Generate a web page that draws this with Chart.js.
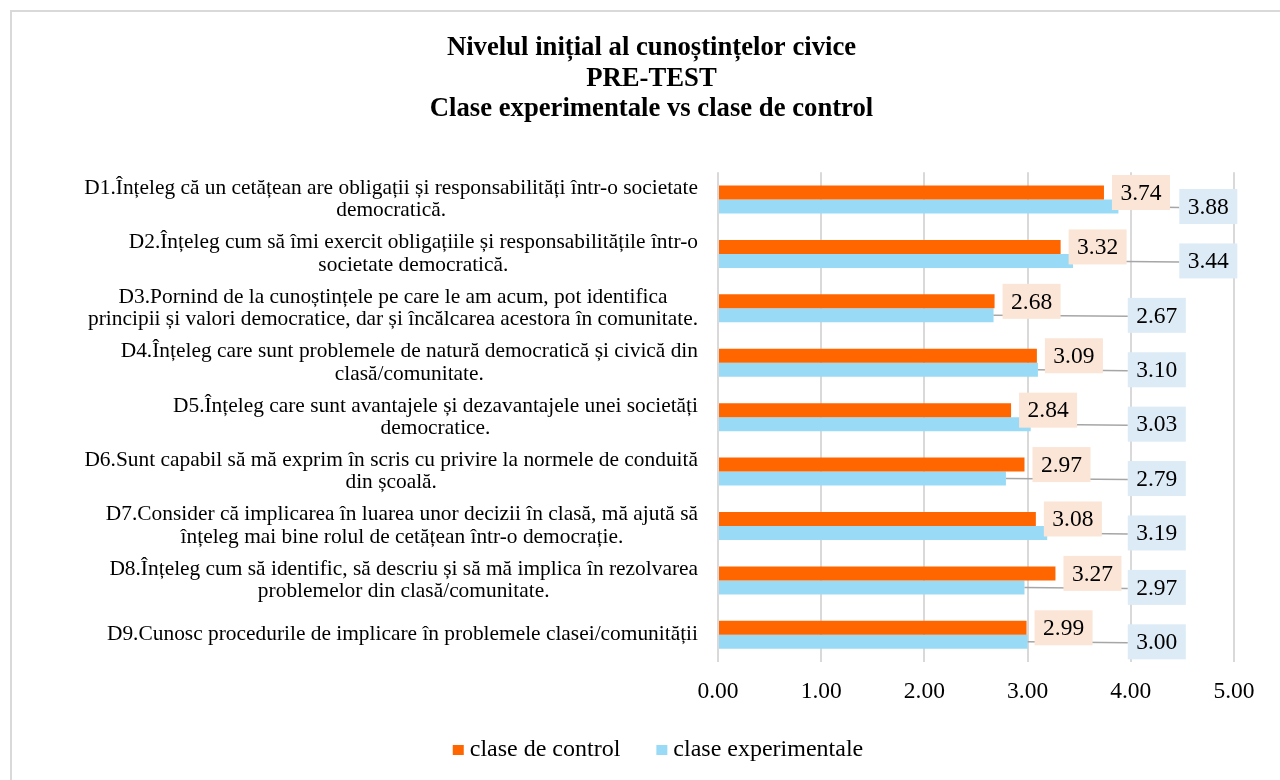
<!DOCTYPE html>
<html>
<head>
<meta charset="utf-8">
<script src="https://cdn.jsdelivr.net/npm/chart.js@4.4.1/dist/chart.umd.min.js"></script>
<style>
  html, body { margin: 0; padding: 0; background: #fff; }
  #wrap { width: 1280px; height: 780px; }
</style>
</head>
<body>
<div id="wrap"><canvas id="chart" width="1280" height="780"></canvas></div>
<script>
const titleLines = [
    "Nivelul inițial al cunoștințelor civice",
    "PRE-TEST",
    "Clase experimentale vs clase de control"
];
const categories = [
    ["D1.Înțeleg că un cetățean are obligații și responsabilități într-o societate", "democratică."],
    ["D2.Înțeleg cum să îmi exercit obligațiile și responsabilitățile într-o", "societate democratică."],
    ["D3.Pornind de la cunoștințele pe care le am acum, pot identifica", "principii și valori democratice, dar și încălcarea acestora în comunitate."],
    ["D4.Înțeleg care sunt problemele de natură democratică și civică din", "clasă/comunitate."],
    ["D5.Înțeleg care sunt avantajele și dezavantajele unei societăți", "democratice."],
    ["D6.Sunt capabil să mă exprim în scris cu privire la normele de conduită", "din școală."],
    ["D7.Consider că implicarea în luarea unor decizii în clasă, mă ajută să", "înțeleg mai bine rolul de cetățean într-o democrație."],
    ["D8.Înțeleg cum să identific, să descriu și să mă implica în rezolvarea", "problemelor din clasă/comunitate."],
    ["D9.Cunosc procedurile de implicare în problemele clasei/comunității"]
];
const seriesNames = ["clase de control", "clase experimentale"];
const controlValues = [3.74, 3.32, 2.68, 3.09, 2.84, 2.97, 3.08, 3.27, 2.99];
const experimentalValues = [3.88, 3.44, 2.67, 3.10, 3.03, 2.79, 3.19, 2.97, 3.00];
const xMin = 0, xMax = 5, xStep = 1;

const serif = "'Liberation Serif', 'Times New Roman', serif";
const barColors = ["#FF6600", "#99DBF6"];
const boxColors = ["#FBE5D6", "#DDEBF7"];

// white page + thin frame like the exported chart
const framePlugin = {
    id: "frame",
    beforeDraw(chart) {
        const ctx = chart.ctx;
        ctx.save();
        ctx.fillStyle = "#fff";
        ctx.fillRect(0, 0, chart.width, chart.height);
        ctx.strokeStyle = "#D9D9D9";
        ctx.lineWidth = 2;
        ctx.strokeRect(11, 11, chart.width + 50, chart.height + 50);
        ctx.restore();
    }
};

// category labels: block right aligned, lines centred inside it
const categoryLabels = {
    id: "categoryLabels",
    afterDraw(chart) {
        const ctx = chart.ctx;
        const y = chart.scales.y;
        const right = chart.chartArea.left - 20;
        ctx.save();
        ctx.font = "21.4px " + serif;
        ctx.fillStyle = "#000";
        ctx.textAlign = "center";
        ctx.textBaseline = "middle";
        chart.data.labels.forEach((lines, i) => {
            const cy = y.getPixelForTick(i);
            const maxW = Math.max(...lines.map(l => ctx.measureText(l).width));
            const cx = right - maxW / 2;
            lines.forEach((l, j) => {
                ctx.fillText(l, cx, cy + (j - (lines.length - 1) / 2) * 22.5);
            });
        });
        ctx.restore();
    }
};

// data labels in coloured boxes, blue ones pulled out with leader lines
const valueLabels = {
    id: "valueLabels",
    afterDatasetsDraw(chart) {
        const ctx = chart.ctx;
        const x = chart.scales.x;
        const ctrl = chart.getDatasetMeta(0).data;
        const expe = chart.getDatasetMeta(1).data;
        const w = 58, h = 35;
        const spots = ctrl.map((bar, i) => {
            const oLeft = bar.x + 8;
            let bLeft = x.getPixelForValue(4) - 3;
            if (oLeft + w + 4 > bLeft) bLeft = x.getPixelForValue(4.47);
            return { oLeft, bLeft, ob: bar, eb: expe[i] };
        });
        ctx.save();
        ctx.strokeStyle = "#A6A6A6";
        ctx.lineWidth = 1.5;
        spots.forEach(s => {
            if (s.bLeft - s.eb.x > 6) {
                ctx.beginPath();
                ctx.moveTo(s.eb.x, s.eb.y);
                ctx.lineTo(s.bLeft, s.eb.y + 1);
                ctx.stroke();
            }
        });
        ctx.font = "23.5px " + serif;
        ctx.textAlign = "center";
        ctx.textBaseline = "middle";
        spots.forEach((s, i) => {
            ctx.fillStyle = boxColors[0];
            ctx.fillRect(s.oLeft, s.ob.y - h / 2, w, h);
            ctx.fillStyle = "#000";
            ctx.fillText(controlValues[i].toFixed(2), s.oLeft + w / 2, s.ob.y + 1);
        });
        spots.forEach((s, i) => {
            ctx.fillStyle = boxColors[1];
            ctx.fillRect(s.bLeft, s.eb.y - h / 2, w, h);
            ctx.fillStyle = "#000";
            ctx.fillText(experimentalValues[i].toFixed(2), s.bLeft + w / 2, s.eb.y + 1);
        });
        ctx.restore();
    }
};

// bottom legend
const legendPlugin = {
    id: "bottomLegend",
    afterDraw(chart) {
        const ctx = chart.ctx;
        ctx.save();
        ctx.font = "24px " + serif;
        ctx.textBaseline = "middle";
        ctx.textAlign = "left";
        const items = chart.data.datasets.map(d => ({ text: d.label, color: d.backgroundColor, tw: ctx.measureText(d.label).width }));
        const total = items.reduce((a, it) => a + 11 + 6 + it.tw, 0) + 36 * (items.length - 1);
        let px = 658 - total / 2;
        const cy = 750;
        items.forEach(it => {
            ctx.fillStyle = it.color;
            ctx.fillRect(px, cy - 5, 11, 10);
            ctx.fillStyle = "#000";
            ctx.fillText(it.text, px + 17, cy);
            px += 17 + it.tw + 36;
        });
        ctx.restore();
    }
};

new Chart(document.getElementById("chart"), {
    type: "bar",
    data: {
        labels: categories,
        datasets: [
            { label: seriesNames[0], data: controlValues, backgroundColor: barColors[0] },
            { label: seriesNames[1], data: experimentalValues, backgroundColor: barColors[1] }
        ]
    },
    options: {
        indexAxis: "y",
        responsive: false,
        animation: false,
        devicePixelRatio: 1,
        categoryPercentage: 0.515,
        barPercentage: 1,
        layout: { padding: { top: 0, left: 69, right: 46, bottom: 60 } },
        scales: {
            x: {
                min: xMin,
                max: xMax,
                ticks: {
                    stepSize: xStep,
                    padding: 16,
                    color: "#000",
                    font: { family: serif, size: 23.5 },
                    callback: v => Number(v).toFixed(2)
                },
                grid: { color: "#D9D9D9", lineWidth: 2, drawTicks: false },
                border: { display: false },
                afterFit: s => { s.height = 58; }
            },
            y: {
                ticks: { display: false },
                grid: { display: false },
                border: { display: false },
                afterFit: s => { s.width = 649; }
            }
        },
        plugins: {
            legend: { display: false },
            tooltip: { enabled: false },
            title: {
                display: true,
                text: titleLines,
                color: "#000",
                font: { family: serif, size: 26.7, weight: "bold", lineHeight: 1.14 },
                padding: { top: 33, bottom: 48 }
            }
        }
    },
    plugins: [framePlugin, categoryLabels, valueLabels, legendPlugin]
});
</script>
</body>
</html>
